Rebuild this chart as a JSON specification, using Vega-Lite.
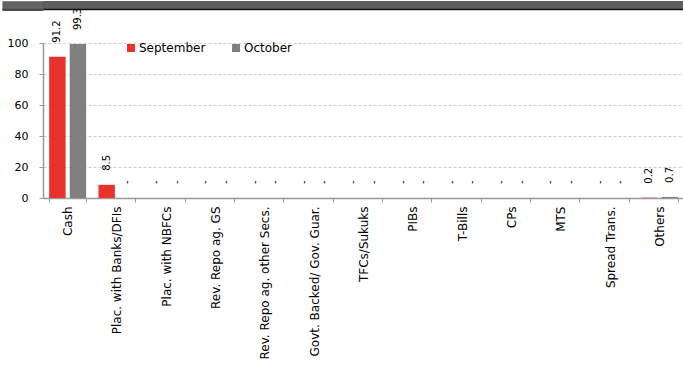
{
  "$schema": "https://vega.github.io/schema/vega-lite/v6.json",
  "padding": 0,
  "background": "#ffffff",
  "config": {
    "font": "DejaVu Sans",
    "view": {"stroke": null}
  },
  "bounds": "flush",
  "spacing": 34,
  "vconcat": [
    {
      "width": 641,
      "height": 8,
      "view": {"fill": "#5e5e5e", "stroke": null},
      "data": {"values": [{"v": 0, "t": ""}]},
      "mark": {"type": "text"},
      "encoding": {
        "text": {"field": "t"},
        "x": {
          "field": "v",
          "type": "quantitative",
          "scale": {"domain": [0, 1]},
          "axis": {"title": null, "labels": false, "ticks": false, "grid": false, "domainColor": "#111111", "domainWidth": 1.5}
        },
        "y": {
          "field": "v",
          "type": "quantitative",
          "scale": {"domain": [0, 1]},
          "axis": {
            "title": null,
            "labels": false,
            "grid": false,
            "domain": false,
            "values": [0.875, 0.625, 0.375, 0.125, 0],
            "ticks": true,
            "tickRound": false,
            "tickSize": 41,
            "tickWidth": 2.6,
            "tickColor": {"condition": {"test": "datum.value === 0", "value": "#111111"}, "value": "#5e5e5e"}
          }
        }
      }
    },
    {
      "width": 641,
      "height": 155,
      "data": {
        "values": [
          {"category": "Cash", "month": "September", "value": 91.2},
          {"category": "Cash", "month": "October", "value": 99.3},
          {"category": "Plac. with Banks/DFIs", "month": "September", "value": 8.5},
          {"category": "Plac. with Banks/DFIs", "month": "October", "value": 0},
          {"category": "Plac. with NBFCs", "month": "September", "value": 0},
          {"category": "Plac. with NBFCs", "month": "October", "value": 0},
          {"category": "Rev. Repo ag. GS", "month": "September", "value": 0},
          {"category": "Rev. Repo ag. GS", "month": "October", "value": 0},
          {"category": "Rev. Repo ag. other Secs.", "month": "September", "value": 0},
          {"category": "Rev. Repo ag. other Secs.", "month": "October", "value": 0},
          {"category": "Govt. Backed/ Gov. Guar.", "month": "September", "value": 0},
          {"category": "Govt. Backed/ Gov. Guar.", "month": "October", "value": 0},
          {"category": "TFCs/Sukuks", "month": "September", "value": 0},
          {"category": "TFCs/Sukuks", "month": "October", "value": 0},
          {"category": "PIBs", "month": "September", "value": 0},
          {"category": "PIBs", "month": "October", "value": 0},
          {"category": "T-Bills", "month": "September", "value": 0},
          {"category": "T-Bills", "month": "October", "value": 0},
          {"category": "CPs", "month": "September", "value": 0},
          {"category": "CPs", "month": "October", "value": 0},
          {"category": "MTS", "month": "September", "value": 0},
          {"category": "MTS", "month": "October", "value": 0},
          {"category": "Spread Trans.", "month": "September", "value": 0},
          {"category": "Spread Trans.", "month": "October", "value": 0},
          {"category": "Others", "month": "September", "value": 0.2},
          {"category": "Others", "month": "October", "value": 0.7}
        ]
      },
      "encoding": {
        "x": {
          "field": "category",
          "type": "nominal",
          "sort": null,
          "scale": {"paddingInner": 0.25, "paddingOuter": 0.125},
          "axis": {
            "title": null,
            "labelAngle": -90,
            "labelAlign": "right",
            "labelBaseline": "middle",
            "labelFont": "DejaVu Sans",
            "labelFontSize": 12,
            "labelColor": "#000000",
            "labelPadding": 4,
            "labelLimit": 300,
            "tickBand": "extent",
            "tickSize": 4,
            "tickColor": "#9a9a9a",
            "domainColor": "#9a9a9a",
            "domainWidth": 1.5
          }
        },
        "xOffset": {
          "field": "month",
          "type": "nominal",
          "sort": ["September", "October"],
          "scale": {"paddingInner": 0.2, "paddingOuter": 0}
        },
        "y": {
          "field": "value",
          "type": "quantitative",
          "scale": {"domain": [0, 100], "nice": false},
          "axis": {
            "title": null,
            "values": [0, 20, 40, 60, 80, 100],
            "labelFont": "DejaVu Sans",
            "labelFontSize": 11,
            "labelColor": "#000000",
            "labelPadding": 11,
            "tickSize": 4,
            "tickColor": "#9a9a9a",
            "domainColor": "#9a9a9a",
            "domainWidth": 1.5,
            "grid": true,
            "gridColor": "#cccccc",
            "gridDash": [3, 2],
            "gridWidth": 1
          }
        }
      },
      "layer": [
        {
          "mark": {"type": "bar"},
          "encoding": {
            "color": {
              "field": "month",
              "type": "nominal",
              "sort": ["September", "October"],
              "scale": {"domain": ["September", "October"], "range": ["#e8322e", "#808080"]},
              "legend": {
                "title": null,
                "orient": "none",
                "direction": "horizontal",
                "legendX": 82,
                "legendY": 41,
                "padding": 0,
                "symbolType": "square",
                "symbolSize": 64,
                "symbolStrokeWidth": 0,
                "labelFont": "DejaVu Sans",
                "labelFontSize": 12,
                "labelColor": "#000000",
                "labelOffset": 2,
                "columnPadding": 24
              }
            }
          }
        },
        {
          "mark": {"type": "text", "align": "left", "baseline": "middle", "dx": 14, "font": "DejaVu Sans", "fontSize": 10, "color": "#000000"},
          "encoding": {
            "angle": {"value": 270},
            "text": {
              "field": "value",
              "type": "quantitative",
              "format": ".1f",
              "condition": {"test": "datum.value === 0", "value": "-"}
            }
          }
        }
      ]
    }
  ]
}
